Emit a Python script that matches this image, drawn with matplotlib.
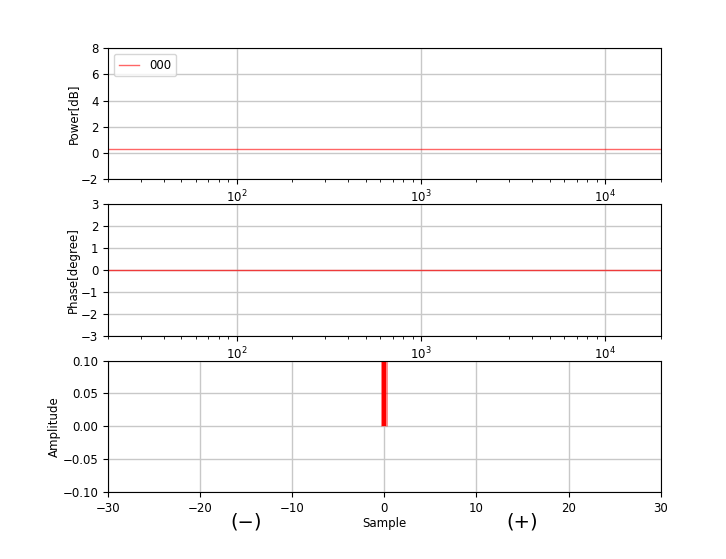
import matplotlib.pyplot as plt
import matplotlib.transforms as mtransforms

# Frequency response data
freqs = [20, 20000]
power_db = [0.3, 0.3]
phase_deg = [0.0, 0.0]
label = '000'

# Impulse response data
samples = [0]
amplitude = [1.0]

plt.rcParams['font.size'] = 8.5
grid_color = '#c8c8c8'

fig, axes = plt.subplots(3, 1, figsize=(7.26, 5.59), dpi=100)
fig.subplots_adjust(left=0.149, right=0.910, top=0.914, bottom=0.12, hspace=0.19)

# Power
ax = axes[0]
ax.semilogx(freqs, power_db, color='r', alpha=0.6, lw=1, label=label)
ax.set_xlim(20, 20000)
ax.set_ylim(-2, 8)
ax.set_yticks(range(-2, 9, 2))
ax.set_ylabel('Power[dB]', labelpad=1)
ax.grid(True, which='major', color=grid_color, lw=1)
ax.legend(loc='upper left', handlelength=1.7, handletextpad=0.9)

# Phase
ax = axes[1]
ax.semilogx(freqs, phase_deg, color='r', alpha=0.7, lw=1)
ax.set_xlim(20, 20000)
ax.set_ylim(-3, 3)
ax.set_yticks(range(-3, 4))
ax.set_ylabel('Phase[degree]', labelpad=1)
ax.grid(True, which='major', color=grid_color, lw=1)

# Impulse
ax = axes[2]
ax.vlines(samples, 0, amplitude, color='r', lw=5, alpha=0.45)
ax.vlines(samples, 0, amplitude, color='r', lw=3)
ax.set_xlim(-30, 30)
ax.set_ylim(-0.1, 0.1)
ax.set_yticks([-0.10, -0.05, 0.00, 0.05, 0.10])
ax.set_ylabel('Amplitude', labelpad=1)
ax.set_xlabel('Sample', labelpad=2)
ax.grid(True, color=grid_color, lw=1)

trans = mtransforms.blended_transform_factory(ax.transData, ax.transAxes)
ax.text(-15, -0.23, '(−)', transform=trans, ha='center', va='center', fontsize=14)
ax.text(15, -0.23, '(+)', transform=trans, ha='center', va='center', fontsize=14)

plt.savefig('out.png', dpi=100)
